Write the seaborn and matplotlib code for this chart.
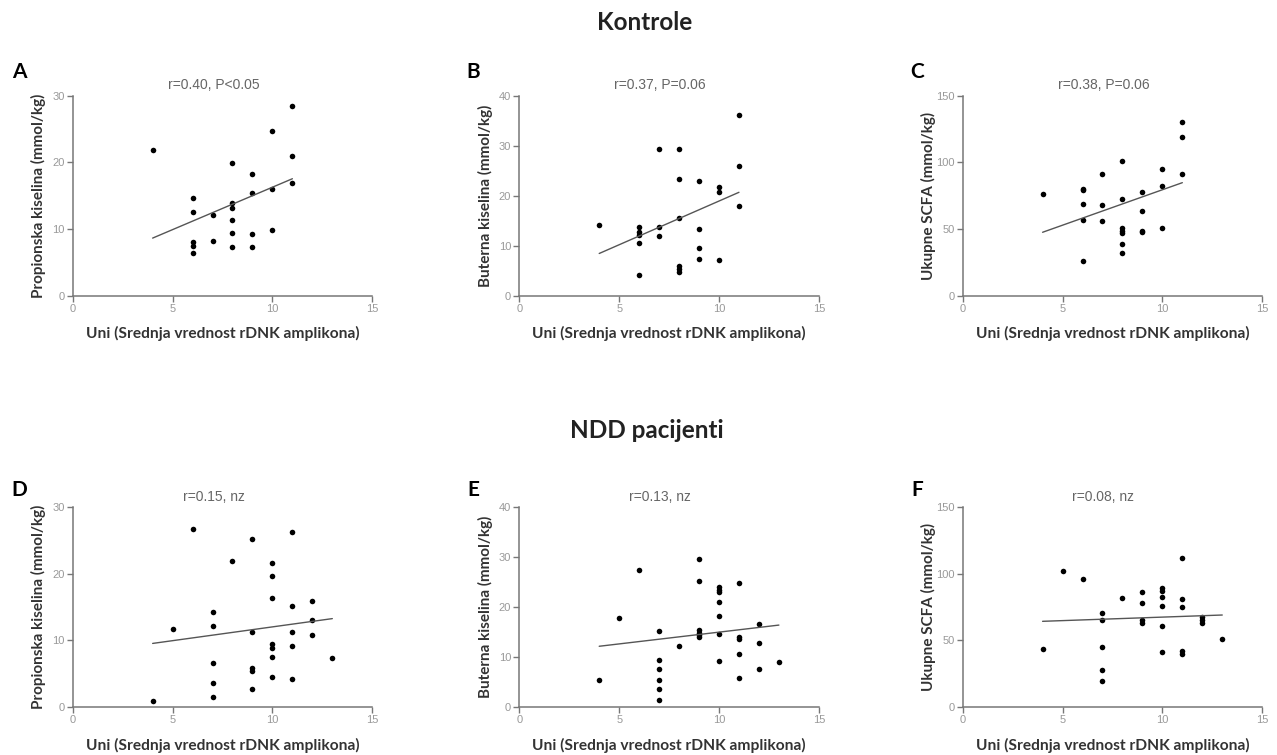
import matplotlib
matplotlib.use("Agg")
import matplotlib.pyplot as plt
import seaborn as sns

sns.set_style("ticks")
plt.rcParams['font.family'] = ['Liberation Sans', 'DejaVu Sans']

# Kontrole
a_x = [4, 6, 6, 6, 6, 6, 7, 7, 8, 8, 8, 8, 8, 8, 9, 9, 9, 9, 10, 10, 10, 11, 11, 11]
a_y = [21.8, 14.6, 12.6, 8.1, 7.5, 6.5, 12.1, 8.2, 19.9, 13.9, 13.2, 11.3, 9.4, 7.4,
       18.2, 15.4, 9.2, 7.4, 24.7, 16.0, 9.8, 28.5, 20.9, 16.9]

b_x = [4, 6, 6, 6, 6, 6, 7, 7, 7, 8, 8, 8, 8, 8, 8, 9, 9, 9, 9, 10, 10, 10, 11, 11, 11]
b_y = [14.2, 13.8, 12.7, 12.2, 10.6, 4.1, 29.3, 13.8, 11.9, 29.3, 23.3, 15.5, 6.0, 5.4, 4.8,
       22.9, 13.4, 9.6, 7.4, 21.7, 20.7, 7.2, 36.1, 25.9, 18.0]

c_x = [4, 6, 6, 6, 6, 6, 7, 7, 7, 8, 8, 8, 8, 8, 8, 8, 9, 9, 9, 9, 10, 10, 10, 11, 11, 11]
c_y = [76.5, 80.3, 79.0, 69.0, 56.9, 26.1, 91.0, 68.2, 56.2, 101.2, 72.2, 50.7, 48.9, 46.9, 38.9, 32.4,
       77.8, 63.5, 48.9, 47.7, 95.1, 82.0, 50.7, 130.4, 119.1, 91.5]

# NDD pacijenti
d_x = [4, 5, 6, 7, 7, 7, 7, 7, 8, 9, 9, 9, 9, 9, 10, 10, 10, 10, 10, 10, 10,
       11, 11, 11, 11, 11, 12, 12, 12, 13]
d_y = [0.85, 11.7, 26.7, 14.2, 12.2, 6.6, 3.5, 1.5, 21.9, 25.3, 11.3, 5.8, 5.4, 2.7,
       21.6, 19.6, 16.4, 9.5, 8.9, 7.5, 4.4, 26.3, 15.2, 11.2, 9.2, 4.2, 15.9, 13.1, 10.8, 7.3]

e_x = [4, 5, 6, 7, 7, 7, 7, 7, 7, 8, 9, 9, 9, 9, 9, 9, 10, 10, 10, 10, 10, 10, 10,
       11, 11, 11, 11, 11, 12, 12, 12, 13]
e_y = [5.3, 17.7, 27.5, 15.2, 9.4, 7.5, 5.3, 3.5, 1.3, 12.1, 29.6, 25.2, 15.3, 14.8, 14.3, 13.9,
       24.1, 23.5, 23.0, 21.0, 18.2, 14.5, 9.2, 24.9, 13.9, 13.6, 10.6, 5.7, 16.6, 12.8, 7.5, 8.9]

f_x = [4, 5, 6, 7, 7, 7, 7, 7, 8, 9, 9, 9, 9, 10, 10, 10, 10, 10, 10,
       11, 11, 11, 11, 11, 12, 12, 12, 13]
f_y = [43.1, 102.1, 96.3, 70.7, 65.2, 45.2, 27.6, 19.3, 81.5, 86.5, 77.8, 65.2, 62.7,
       89.0, 87.3, 82.8, 75.8, 60.7, 41.1, 112.1, 81.0, 74.7, 42.1, 39.6, 67.2, 65.2, 63.2, 50.7]

letters = ['A', 'B', 'C', 'D', 'E', 'F']
stats = ['r=0.40, P<0.05', 'r=0.37, P=0.06', 'r=0.38, P=0.06',
         'r=0.15, nz', 'r=0.13, nz', 'r=0.08, nz']
y_labels = ['Propionska kiselina (mmol/kg)', 'Buterna kiselina (mmol/kg)', 'Ukupne SCFA (mmol/kg)'] * 2
y_ticks = [[0, 10, 20, 30], [0, 10, 20, 30, 40], [0, 50, 100, 150]] * 2
x_ticks = [0, 5, 10, 15]
x_label = 'Uni (Srednja vrednost rDNK amplikona)'
group_titles = ['Kontrole', 'NDD pacijenti']

xs = [a_x, b_x, c_x, d_x, e_x, f_x]
ys = [a_y, b_y, c_y, d_y, e_y, f_y]

fig = plt.figure(figsize=(12.77, 7.55), dpi=100)
lefts = [0.057, 0.4067, 0.7539]
letter_x = [19.5, 473.5, 917]
spine_col = '#777777'
bold = dict(family=['Lato', 'DejaVu Sans'], weight='bold')

for i in range(6):
    row, col = divmod(i, 3)
    if row == 0:
        ax = fig.add_axes([lefts[col], 0.608, 0.2345, 0.2655])
    else:
        ax = fig.add_axes([lefts[col], 0.064, 0.2345, 0.264])
    sns.regplot(x=xs[i], y=ys[i], ax=ax, ci=None, truncate=True,
                scatter_kws=dict(s=16, color='black', linewidths=0, alpha=1),
                line_kws=dict(color='#555555', lw=1.0))
    ax.set_xlim(0, 15)
    ax.set_ylim(0, y_ticks[i][-1])
    ax.set_xticks(x_ticks)
    ax.set_yticks(y_ticks[i])
    sns.despine(ax=ax)
    for s in ['left', 'bottom']:
        ax.spines[s].set_color(spine_col)
        ax.spines[s].set_linewidth(1.1)
    ax.tick_params(length=4, width=1, color=spine_col, labelsize=8, labelcolor='#999999', pad=2)
    ax.set_xlabel(x_label, fontsize=11.2, color='#333333', **bold)
    ax.set_ylabel(y_labels[i], fontsize=11, color='#333333', **bold)
    ax.yaxis.set_label_coords(-0.088, 0.5)
    ax.xaxis.set_label_coords(0.5, -0.148 if row == 0 else -0.158)
    ax.text(0.47, 1.053, stats[i], transform=ax.transAxes, ha='center', va='center',
            fontsize=10, color='#666666')
    fig.text(letter_x[col] / 1277, 1 - (72.5 if row == 0 else 490) / 755, letters[i],
             ha='center', va='center', fontsize=15, color='black', **bold)

fig.text(645 / 1277, 1 - 22 / 755, group_titles[0], ha='center', va='center',
         fontsize=17.5, color='#222222', **bold)
fig.text(647 / 1277, 1 - 431 / 755, group_titles[1], ha='center', va='center',
         fontsize=17.5, color='#222222', **bold)

fig.savefig('out.png', dpi=100, facecolor='white')
